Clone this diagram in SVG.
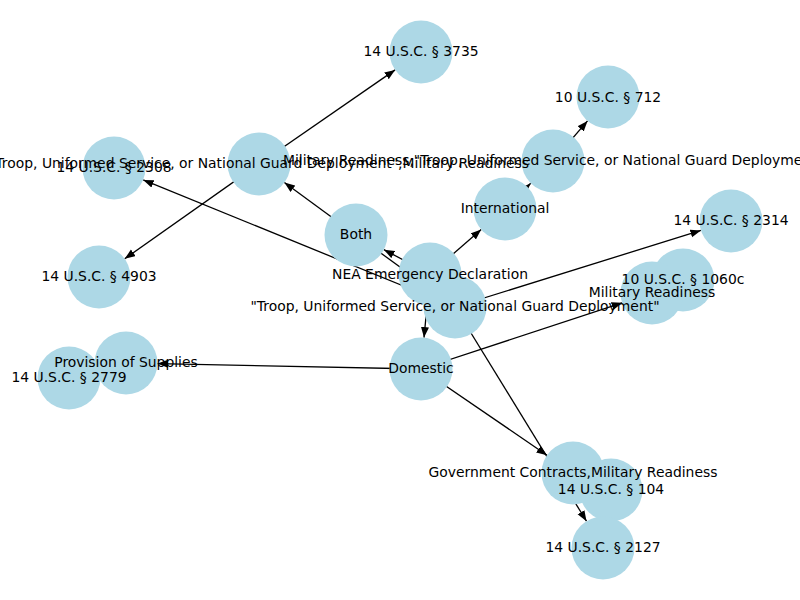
<svg xmlns="http://www.w3.org/2000/svg" width="800" height="600" viewBox="0 0 800 600">
<style>
.node circle { fill: #add8e6; stroke: none; }
.edge { stroke: #000; stroke-width: 1.3; fill: none; }
.lbl { font-family: "DejaVu Sans", "Liberation Sans", sans-serif; font-size: 13.9px; fill: #000; text-anchor: middle; dominant-baseline: central; }
</style>
<defs>
<marker id="arr" markerUnits="userSpaceOnUse" markerWidth="12" markerHeight="9" refX="10.5" refY="4" orient="auto">
<path d="M0,0 L10.5,4 L0,8 z" fill="#000"/>
</marker>
</defs>
<rect width="800" height="600" fill="#fff"/>
<g id="edges">
<line class="edge" x1="259" y1="164" x2="395.1" y2="69.9" marker-end="url(#arr)"/>
<line class="edge" x1="259" y1="164" x2="124.7" y2="258.8" marker-end="url(#arr)"/>
<line class="edge" x1="356" y1="235" x2="284.4" y2="182.6" marker-end="url(#arr)"/>
<line class="edge" x1="430" y1="274" x2="383.9" y2="249.7" marker-end="url(#arr)"/>
<line class="edge" x1="356" y1="235" x2="429.5" y2="288.5" marker-end="url(#arr)"/>
<line class="edge" x1="455" y1="307" x2="143.2" y2="179.9" marker-end="url(#arr)"/>
<line class="edge" x1="430" y1="274" x2="481.2" y2="229.6" marker-end="url(#arr)"/>
<line class="edge" x1="505" y1="209" x2="530.7" y2="183.3" marker-end="url(#arr)"/>
<line class="edge" x1="553" y1="161" x2="587.5" y2="120.9" marker-end="url(#arr)"/>
<line class="edge" x1="430" y1="274" x2="424" y2="337.6" marker-end="url(#arr)"/>
<line class="edge" x1="455" y1="307" x2="700.9" y2="230.4" marker-end="url(#arr)"/>
<line class="edge" x1="421" y1="369" x2="622.1" y2="302.8" marker-end="url(#arr)"/>
<line class="edge" x1="421" y1="369" x2="157.5" y2="363.6" marker-end="url(#arr)"/>
<line class="edge" x1="421" y1="369" x2="547" y2="455.2" marker-end="url(#arr)"/>
<line class="edge" x1="455" y1="307" x2="586.5" y2="521.2" marker-end="url(#arr)"/>
</g>
<g id="nodes">
<g id="n-3735" class="node"><circle cx="421" cy="52" r="31.5"/></g>
<g id="n-712" class="node"><circle cx="608" cy="97" r="31.5"/></g>
<g id="n-troop-mr" class="node"><circle cx="259" cy="164" r="31.5"/></g>
<g id="n-2308" class="node"><circle cx="114" cy="168" r="31.5"/></g>
<g id="n-mr-troop" class="node"><circle cx="553" cy="161" r="31.5"/></g>
<g id="n-international" class="node"><circle cx="505" cy="209" r="31.5"/></g>
<g id="n-both" class="node"><circle cx="356" cy="235" r="31.5"/></g>
<g id="n-2314" class="node"><circle cx="731" cy="221" r="31.5"/></g>
<g id="n-4903" class="node"><circle cx="99" cy="277" r="31.5"/></g>
<g id="n-troop" class="node"><circle cx="455" cy="307" r="31.5"/></g>
<g id="n-nea" class="node"><circle cx="430" cy="274" r="31.5"/></g>
<g id="n-1060c" class="node"><circle cx="683" cy="280" r="31.5"/></g>
<g id="n-mr" class="node"><circle cx="652" cy="293" r="31.5"/></g>
<g id="n-2779" class="node"><circle cx="69" cy="378" r="31.5"/></g>
<g id="n-provision" class="node"><circle cx="126" cy="363" r="31.5"/></g>
<g id="n-domestic" class="node"><circle cx="421" cy="369" r="31.5"/></g>
<g id="n-govc" class="node"><circle cx="573" cy="473" r="31.5"/></g>
<g id="n-104" class="node"><circle cx="611" cy="490" r="31.5"/></g>
<g id="n-2127" class="node"><circle cx="603" cy="548" r="31.5"/></g>
</g>
<g id="labels">
<text class="lbl" x="421" y="51">14 U.S.C. § 3735</text>
<text class="lbl" x="608" y="97">10 U.S.C. § 712</text>
<text class="lbl" x="114" y="167">14 U.S.C. § 2308</text>
<text class="lbl" x="259" y="163">"Troop, Uniformed Service, or National Guard Deployment",Military Readiness</text>
<text class="lbl" x="553" y="160">Military Readiness,"Troop, Uniformed Service, or National Guard Deployment"</text>
<text class="lbl" x="505" y="208">International</text>
<text class="lbl" x="356" y="234">Both</text>
<text class="lbl" x="731" y="220">14 U.S.C. § 2314</text>
<text class="lbl" x="99" y="276">14 U.S.C. § 4903</text>
<text class="lbl" x="430" y="274">NEA Emergency Declaration</text>
<text class="lbl" x="455" y="306">"Troop, Uniformed Service, or National Guard Deployment"</text>
<text class="lbl" x="683" y="279">10 U.S.C. § 1060c</text>
<text class="lbl" x="652" y="292">Military Readiness</text>
<text class="lbl" x="69" y="377">14 U.S.C. § 2779</text>
<text class="lbl" x="126" y="362">Provision of Supplies</text>
<text class="lbl" x="421" y="368">Domestic</text>
<text class="lbl" x="573" y="472">Government Contracts,Military Readiness</text>
<text class="lbl" x="611" y="489">14 U.S.C. § 104</text>
<text class="lbl" x="603" y="547">14 U.S.C. § 2127</text>
</g>
</svg>
